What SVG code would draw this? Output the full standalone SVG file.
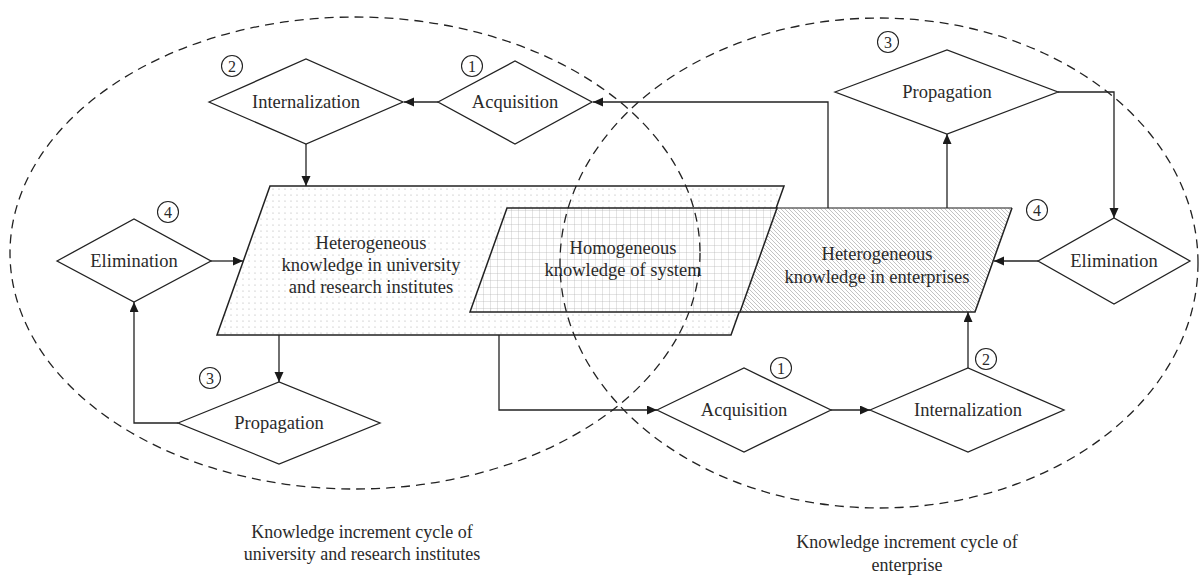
<svg xmlns="http://www.w3.org/2000/svg" width="1202" height="580" viewBox="0 0 1202 580">
<defs>
<pattern id="dots" patternUnits="userSpaceOnUse" width="6" height="6">
<circle cx="3" cy="3" r="0.6" fill="#a8a8a8"/>
</pattern>
<pattern id="grid" patternUnits="userSpaceOnUse" width="7" height="7">
<path d="M0,0 H7 M0,0 V7" stroke="#b0b0b0" stroke-width="0.7" fill="none"/>
</pattern>
<pattern id="hatch" patternUnits="userSpaceOnUse" width="4" height="4">
<path d="M-1,-1 L5,5 M-1,3 L1,5 M3,-1 L5,1" stroke="#9a9a9a" stroke-width="0.6" fill="none"/>
</pattern>
<marker id="arr" markerUnits="userSpaceOnUse" markerWidth="11" markerHeight="10" refX="10" refY="4.5" orient="auto">
<path d="M0,0 L10,4.5 L0,9 z" fill="#1a1a1a"/>
</marker>
</defs>
<style>
.t{font-family:"Liberation Serif","Times New Roman",serif;fill:#2a2a2a;text-anchor:middle}
.lbl{font-size:18.5px}
.cap{font-size:18px}
.num{font-size:16px}
.dia{fill:#fff;stroke:#222;stroke-width:1.3}
.par{stroke:#222;stroke-width:1.5}
.con{fill:none;stroke:#222;stroke-width:1.3;marker-end:url(#arr)}
.ring{fill:none;stroke:#222;stroke-width:1.1}
.ell{fill:none;stroke:#222;stroke-width:1.3;stroke-dasharray:9 6}
</style>

<g id="node-uni">
<polygon points="270,186 784,186 731,335 217,335" fill="#fff"/>
<polygon class="par" points="270,186 784,186 731,335 217,335" fill="url(#dots)"/>
<text class="t lbl" x="371" y="249">Heterogeneous</text>
<text class="t lbl" x="371" y="271">knowledge in university</text>
<text class="t lbl" x="371" y="293">and research institutes</text>
</g>

<g id="node-ent">
<polygon points="777,208 1012,208 975,312 740,312" fill="#fff"/>
<polygon points="777,208 1012,208 975,312 740,312" fill="url(#hatch)" stroke="none"/>
<path d="M777,208 H1012" stroke="#666" stroke-width="1.3" fill="none"/>
<path d="M1012,208 L975,312 H740" stroke="#222" stroke-width="1.5" fill="none"/>
<text class="t lbl" x="877" y="260">Heterogeneous</text>
<text class="t lbl" x="877" y="283">knowledge in enterprises</text>
</g>

<g id="node-homo">
<polygon points="507,208 777,208 740,312 470,312" fill="#fff"/>
<polygon class="par" points="507,208 777,208 740,312 470,312" fill="url(#grid)"/>
<text class="t lbl" x="623" y="254">Homogeneous</text>
<text class="t lbl" x="623" y="276">knowledge of system</text>
</g>

<g id="node-acq-l">
<polygon class="dia" points="438,102 515,61 592,102 515,144"/>
<text class="t lbl" x="515" y="108">Acquisition</text>
<circle class="ring" cx="472" cy="66" r="10.5"/>
<text class="t num" x="472" y="71.5">1</text>
</g>
<g id="node-int-l">
<polygon class="dia" points="209,102 306,59 403,102 306,144"/>
<text class="t lbl" x="306" y="108">Internalization</text>
<circle class="ring" cx="232" cy="66" r="10.5"/>
<text class="t num" x="232" y="71.5">2</text>
</g>
<g id="node-elim-l">
<polygon class="dia" points="57,261 134,219 211,261 134,302"/>
<text class="t lbl" x="134" y="267">Elimination</text>
<circle class="ring" cx="168" cy="212" r="10.5"/>
<text class="t num" x="168" y="217.5">4</text>
</g>
<g id="node-prop-l">
<polygon class="dia" points="178,423 279,382 380,423 279,464"/>
<text class="t lbl" x="279" y="429">Propagation</text>
<circle class="ring" cx="210" cy="378" r="10.5"/>
<text class="t num" x="210" y="383.5">3</text>
</g>

<g id="node-acq-r">
<polygon class="dia" points="657,410 744,368 831,410 744,452"/>
<text class="t lbl" x="744" y="416">Acquisition</text>
<circle class="ring" cx="781" cy="368" r="10.5"/>
<text class="t num" x="781" y="373.5">1</text>
</g>
<g id="node-int-r">
<polygon class="dia" points="870,410 968,368 1064,410 968,452"/>
<text class="t lbl" x="968" y="416">Internalization</text>
<circle class="ring" cx="986" cy="359" r="10.5"/>
<text class="t num" x="986" y="364.5">2</text>
</g>
<g id="node-prop-r">
<polygon class="dia" points="835,92 947,50 1058,92 947,134"/>
<text class="t lbl" x="947" y="98">Propagation</text>
<circle class="ring" cx="888" cy="42" r="10.5"/>
<text class="t num" x="888" y="47.5">3</text>
</g>
<g id="node-elim-r">
<polygon class="dia" points="1038,261 1114,218 1190,261 1114,304"/>
<text class="t lbl" x="1114" y="267">Elimination</text>
<circle class="ring" cx="1037" cy="210" r="10.5"/>
<text class="t num" x="1037" y="215.5">4</text>
</g>

<g id="connectors">
<path class="con" d="M438,102 H404"/>
<path class="con" d="M828,208 V102 H593"/>
<path class="con" d="M306,144 V186"/>
<path class="con" d="M211,261 H243"/>
<path class="con" d="M279,335 V382"/>
<path class="con" d="M178,423 H134 V302"/>
<path class="con" d="M499,335 V410 H657"/>
<path class="con" d="M831,410 H870"/>
<path class="con" d="M968,368 V312"/>
<path class="con" d="M947,208 V134"/>
<path class="con" d="M1058,92 H1114 V218"/>
<path class="con" d="M1038,261 H994"/>
</g>

<g id="cycles">
<ellipse class="ell" cx="355" cy="253" rx="345" ry="236"/>
<ellipse class="ell" cx="879" cy="263" rx="319" ry="245"/>
<text class="t cap" x="362" y="538">Knowledge increment cycle of</text>
<text class="t cap" x="362" y="560">university and research institutes</text>
<text class="t cap" x="907" y="548">Knowledge increment cycle of</text>
<text class="t cap" x="907" y="571">enterprise</text>
</g>
</svg>
